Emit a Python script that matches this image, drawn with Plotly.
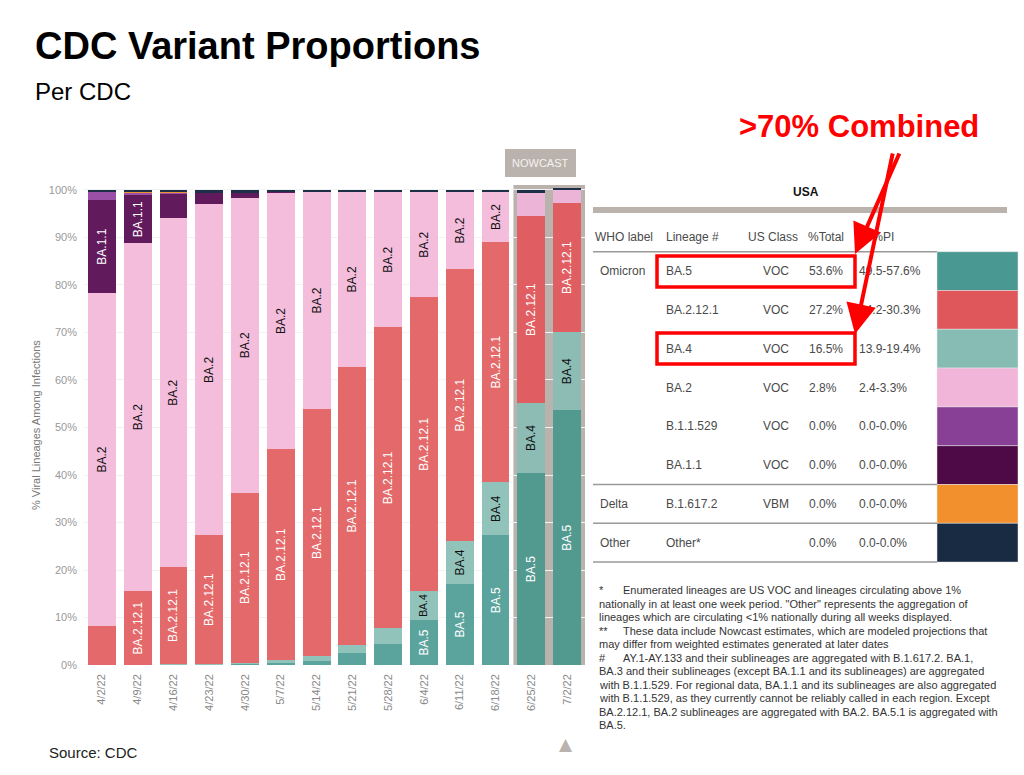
import plotly.graph_objects as go

# ---------------- data ----------------
dates = ["4/2/22", "4/9/22", "4/16/22", "4/23/22", "4/30/22", "5/7/22", "5/14/22",
         "5/21/22", "5/28/22", "6/4/22", "6/11/22", "6/18/22", "6/25/22", "7/2/22"]
nowcast = [False] * 12 + [True, True]

ba5 = [0.0, 0.0, 0.1, 0.2, 0.3, 0.5, 0.9, 2.5, 4.4, 9.5, 17.1, 27.3, 40.4, 53.6]
ba4 = [0.0, 0.0, 0.1, 0.1, 0.2, 0.5, 1.0, 1.7, 3.3, 6.1, 9.0, 11.2, 14.8, 16.5]
ba2121 = [8.2, 15.6, 20.5, 27.0, 35.8, 44.5, 52.0, 58.6, 63.4, 61.8, 57.3, 50.6, 39.3, 27.2]
ba2 = [70.2, 73.2, 73.3, 69.7, 62.1, 53.9, 45.7, 36.8, 28.5, 22.2, 16.2, 10.5, 4.9, 2.8]
ba11 = [19.4, 10.1, 5.3, 2.4, 1.0, 0.1, 0, 0, 0, 0, 0, 0, 0, 0]
b11529 = [1.8, 0.6, 0.2, 0.1, 0.05, 0, 0, 0, 0, 0, 0, 0, 0, 0]
delta = [0.05, 0.05, 0.05, 0.05, 0, 0, 0, 0, 0, 0, 0, 0, 0, 0]
other = [0.35, 0.45, 0.45, 0.4, 0.5, 0.5, 0.4, 0.4, 0.4, 0.4, 0.4, 0.4, 0.6, 0.2]

series_names = ["BA.5", "BA.4", "BA.2.12.1", "BA.2", "BA.1.1", "B.1.1.529", "Delta", "Other"]
series_values = [ba5, ba4, ba2121, ba2, ba11, b11529, delta, other]
bar_colors = ["#5ba39d", "#92c3bb", "#e4696a", "#f4bddc", "#611b5d", "#9a50a6", "#f0922e", "#1d3047"]
nowcast_colors = ["#52998f", "#8cbcb4", "#e05e61", "#ecb4d6", "#611b5d", "#9a50a6", "#f0922e", "#1d3047"]
label_colors = ["white", "#111111", "white", "#111111", "white", "white", "white", "white"]

# table
tbl_who = ["Omicron", "", "", "", "", "", "Delta", "Other"]
tbl_lineage = ["BA.5", "BA.2.12.1", "BA.4", "BA.2", "B.1.1.529", "BA.1.1", "B.1.617.2", "Other*"]
tbl_class = ["VOC", "VOC", "VOC", "VOC", "VOC", "VOC", "VBM", ""]
tbl_total = ["53.6%", "27.2%", "16.5%", "2.8%", "0.0%", "0.0%", "0.0%", "0.0%"]
tbl_pi = ["49.5-57.6%", "24.2-30.3%", "13.9-19.4%", "2.4-3.3%", "0.0-0.0%", "0.0-0.0%", "0.0-0.0%", "0.0-0.0%"]
tbl_swatch = ["#4a9892", "#e0575b", "#86bcb4", "#f0b5d8", "#883f96", "#4d0a46", "#f2902d", "#182b42"]
tbl_headers = ["WHO label", "Lineage #", "US Class", "%Total", "95%PI"]

footnotes = [
    ("*", "Enumerated lineages are US VOC and lineages circulating above 1%"),
    ("", "nationally in at least one week period. \"Other\" represents the aggregation of"),
    ("", "lineages which are circulating <1% nationally during all weeks displayed."),
    ("**", "These data include Nowcast estimates, which are modeled projections that"),
    ("", "may differ from weighted estimates generated at later dates"),
    ("#", "AY.1-AY.133 and their sublineages are aggregated with B.1.617.2. BA.1,"),
    ("", "BA.3 and their sublineages (except BA.1.1 and its sublineages) are aggregated"),
    ("", "with B.1.1.529. For regional data, BA.1.1 and its sublineages are also aggregated"),
    ("", "with B.1.1.529, as they currently cannot be reliably called in each region. Except"),
    ("", "BA.2.12.1, BA.2 sublineages are aggregated with BA.2. BA.5.1 is aggregated with"),
    ("", "BA.5."),
]

# ---------------- layout geometry ----------------
W, H = 1024, 775
PL, PR, PT, PB = 84, 585, 185, 665   # plot area in pixels
YMAX = 101.05
PX_PER_PCT = (PB - PT) / YMAX


def X(px):
    return (px - PL) / (PR - PL)


def Y(py):
    return (PB - py) / (PB - PT)


FONT = "Liberation Sans, Arial, sans-serif"


def txt(text, px, py, size, color, xanchor="left", family=FONT, **kw):
    d = dict(text=text, x=X(px), y=Y(py), xref="paper", yref="paper", xanchor=xanchor,
             yanchor="middle", showarrow=False, font=dict(family=family, size=size, color=color))
    d.update(kw)
    return d


fig = go.Figure()

for name, vals, col, ncol, lc in zip(series_names, series_values, bar_colors, nowcast_colors, label_colors):
    labels = []
    for v in vals:
        need = len(name) * 5.5 + 4
        labels.append(name if v * PX_PER_PCT >= need else "")
    fig.add_trace(go.Bar(
        x=dates, y=vals, name=name, text=labels,
        marker=dict(color=[ncol if n else col for n in nowcast], line=dict(width=0)),
        textposition="inside", insidetextanchor="middle", textangle=-90,
        textfont=dict(family=FONT, size=12, color=lc),
        hoverinfo="skip", showlegend=False,
    ))

shapes = []
annos = []

# nowcast background
shapes.append(dict(type="rect", xref="x", yref="y", x0=11.5, x1=13.5, y0=0, y1=YMAX,
                   fillcolor="#bab2ac", line=dict(width=0), layer="below"))
shapes.append(dict(type="rect", xref="paper", yref="paper", x0=X(505), x1=X(576), y0=Y(177), y1=Y(149),
                   fillcolor="#bab2ac", line=dict(width=0)))
annos.append(txt("NOWCAST", 540.5, 163, 11, "#f4f2f0", xanchor="center"))
annos.append(txt("▲", 566, 744, 17, "#bab2ac", xanchor="center", family="DejaVu Sans"))

# titles
annos.append(txt("<b>CDC Variant Proportions</b>", 33, 46, 38, "black"))
annos.append(txt("Per CDC", 33, 91, 24, "black"))
annos.append(txt("Source: CDC", 47, 752, 15, "#222"))
annos.append(txt("% Viral Lineages Among Infections", 36, 425, 11, "#777", xanchor="center", textangle=-90))
annos.append(txt("<b>>70% Combined</b>", 859, 126, 31, "#ff0000", xanchor="center"))

# table
annos.append(txt("<b>USA</b>", 806, 192, 12, "#111", xanchor="center"))
shapes.append(dict(type="line", xref="paper", yref="paper", x0=X(593), x1=X(1007), y0=Y(210), y1=Y(210),
                   line=dict(color="#bab2ac", width=6)))
hdr_x = [593, 664, 746, 806, 857]
for hx, ht in zip(hdr_x, tbl_headers):
    annos.append(txt(ht, hx, 237, 12, "#4a4a4a"))
shapes.append(dict(type="line", xref="paper", yref="paper", x0=X(593), x1=X(937), y0=Y(251.7), y1=Y(251.7),
                   line=dict(color="#9a9a9a", width=1.5)))
row_top = 251.7
row_h = 38.8
col_x = [598, 664, 761, 807, 857]
for i in range(len(tbl_lineage)):
    cy = row_top + row_h * (i + 0.5)
    for cx, t in zip(col_x, [tbl_who[i], tbl_lineage[i], tbl_class[i], tbl_total[i], tbl_pi[i]]):
        if t:
            annos.append(txt(t, cx, cy, 12, "#4a4a4a"))
    shapes.append(dict(type="rect", xref="paper", yref="paper", x0=X(937), x1=X(1018),
                       y0=Y(row_top + row_h * (i + 1)), y1=Y(row_top + row_h * i),
                       fillcolor=tbl_swatch[i], line=dict(color="#e8e8e8", width=0.5)))
for ly in [row_top + row_h * 6, row_top + row_h * 7, row_top + row_h * 8]:
    shapes.append(dict(type="line", xref="paper", yref="paper", x0=X(593), x1=X(937), y0=Y(ly), y1=Y(ly),
                       line=dict(color="#9a9a9a", width=1.5)))

# red callout boxes and arrows
for (y0, y1) in [(256, 287), (333, 364)]:
    shapes.append(dict(type="rect", xref="paper", yref="paper", x0=X(657), x1=X(855), y0=Y(y1), y1=Y(y0),
                       line=dict(color="#ff0000", width=3.5)))
for (tx, ty, sx, sy) in [(855, 254, 900, 152), (855, 334, 893, 152)]:
    annos.append(dict(text="", x=X(tx), y=Y(ty), xref="paper", yref="paper", showarrow=True,
                      ax=sx - tx, ay=sy - ty, arrowhead=2, arrowsize=1.5, arrowwidth=4,
                      arrowcolor="#ff0000", standoff=0))

# footnotes
for j, (mark, t) in enumerate(footnotes):
    fy = 590 + 13.5 * j
    if mark:
        annos.append(txt(mark, 597, fy, 11, "#333"))
        annos.append(txt(t, 621, fy, 11, "#333"))
    else:
        annos.append(txt(t, 597, fy, 11, "#333"))

fig.update_layout(
    width=W, height=H, autosize=False,
    margin=dict(l=PL, r=W - PR, t=PT, b=H - PB, pad=0),
    barmode="stack", bargap=0.22,
    plot_bgcolor="white", paper_bgcolor="white",
    shapes=shapes, annotations=annos,
    font=dict(family=FONT),
    xaxis=dict(type="category", tickangle=-90, tickfont=dict(family=FONT, size=11, color="#888"),
               showgrid=False, showline=False, zeroline=False, ticks="", ticklabelstandoff=6),
    yaxis=dict(range=[0, YMAX], tickvals=[0, 10, 20, 30, 40, 50, 60, 70, 80, 90, 100],
               ticktext=["0%", "10%", "20%", "30%", "40%", "50%", "60%", "70%", "80%", "90%", "100%"],
               tickfont=dict(family=FONT, size=11, color="#999"), gridcolor="#f2f2f2",
               showline=False, zeroline=False, ticks="", ticklabelstandoff=6),
)

fig.write_html("out.html")
